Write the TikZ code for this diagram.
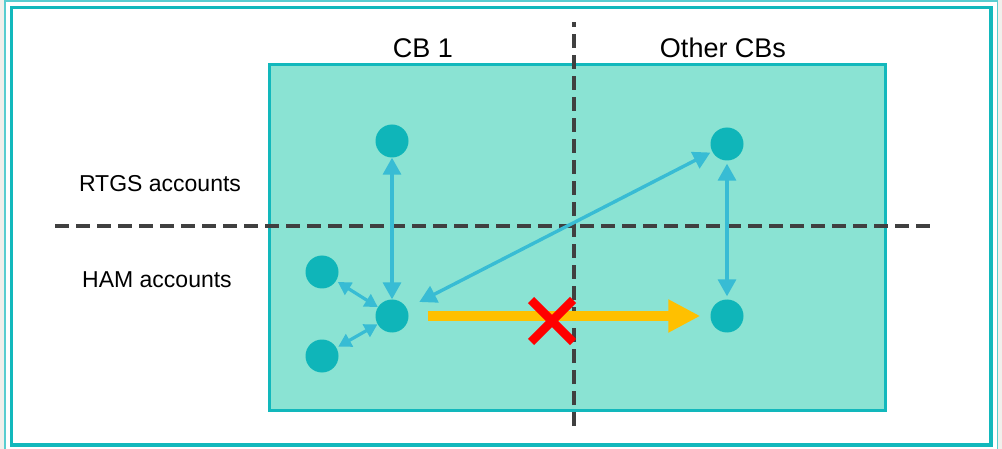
\documentclass[tikz,border=0pt]{standalone}
\usepackage{fontspec}
\setmainfont{Liberation Sans}
\usetikzlibrary{arrows.meta}
\definecolor{frameteal}{HTML}{12B8BC}
\definecolor{panelfill}{HTML}{8AE3D3}
\definecolor{dotteal}{HTML}{0FB5B9}
\definecolor{arrowblue}{HTML}{38BCD4}
\definecolor{goldline}{HTML}{FFC000}
\definecolor{crossred}{HTML}{FF0000}
\definecolor{dashgray}{HTML}{404040}
\definecolor{bggray}{HTML}{F1F0EC}
\tikzset{
  acct/.style={circle, fill=dotteal, minimum size=33pt, inner sep=0pt},
  link/.style={arrowblue, line width=3.4pt, {Triangle[width=18pt,length=17pt]}-{Triangle[width=18pt,length=17pt]}},
  smalllink/.style={arrowblue, line width=3.2pt, {Triangle[width=14pt,length=13pt]}-{Triangle[width=14pt,length=13pt]}},
  divider/.style={dashgray, line width=3.3pt, dash pattern=on 14pt off 7pt},
  lbl/.style={font=\fontsize{23}{27}\selectfont, text=black, inner sep=0pt},
  hdr/.style={font=\fontsize{27}{32}\selectfont, text=black, inner sep=0pt}
}
\begin{document}
\begin{tikzpicture}[x=1pt,y=-1pt]
\useasboundingbox (0,0) rectangle (1002,449);
\fill[bggray] (0,0) rectangle (1002,449);
\filldraw[fill=white, draw=frameteal!70, line width=1.5pt] (5,1) rectangle (997.5,450);
\draw[frameteal, line width=3.5pt] (11.5,7.5) rectangle (991,445);
\filldraw[fill=panelfill, draw=frameteal, line width=3pt] (269.5,64.5) rectangle (885.5,410);
% dividers
\coordinate (hL) at (55,226);
\coordinate (hR) at (937,226);
\coordinate (vT) at (574,22);
\coordinate (vB) at (574,426);
\draw[divider] (hL) -- (hR);
\draw[divider] (vB) -- (vT);
% labels
\node[hdr, anchor=base] (cb1) at (423,58) {CB 1};
\node[hdr, anchor=base] (other) at (723,58) {Other CBs};
\node[lbl, anchor=base] (rtgs) at (160,192) {RTGS accounts};
\node[lbl, anchor=base] (ham) at (157,287.5) {HAM accounts};
% accounts
\node[acct] (r1) at (392,141) {};
\node[acct] (r2) at (727,144) {};
\node[acct] (h1) at (392,316) {};
\node[acct] (h2) at (727,316) {};
\node[acct] (s1) at (322,272) {};
\node[acct] (s2) at (322,356) {};
% links
\draw[link] (r1) -- (h1);
\draw[link, shorten <=3pt, shorten >=3pt] (r2) -- (h2);
\draw[link, shorten <=14pt, shorten >=2pt] (h1) -- (r2);
\draw[smalllink, shorten <=2pt] (s1) -- (h1);
\draw[smalllink, shorten <=2pt] (s2) -- (h1);
% gold arrow
\draw[goldline, line width=10.5pt, -{Triangle[width=31pt,length=32pt]}, shorten <=19pt, shorten >=10pt] (h1) -- (h2);
% red cross
\node[inner sep=0pt] (x) at (552,321) {};
\draw[crossred, line width=8.5pt] ([shift={(-21,-21)}]x.center) -- ([shift={(21,21)}]x.center);
\draw[crossred, line width=8.5pt] ([shift={(-21,21)}]x.center) -- ([shift={(21,-21)}]x.center);
\end{tikzpicture}
\end{document}
